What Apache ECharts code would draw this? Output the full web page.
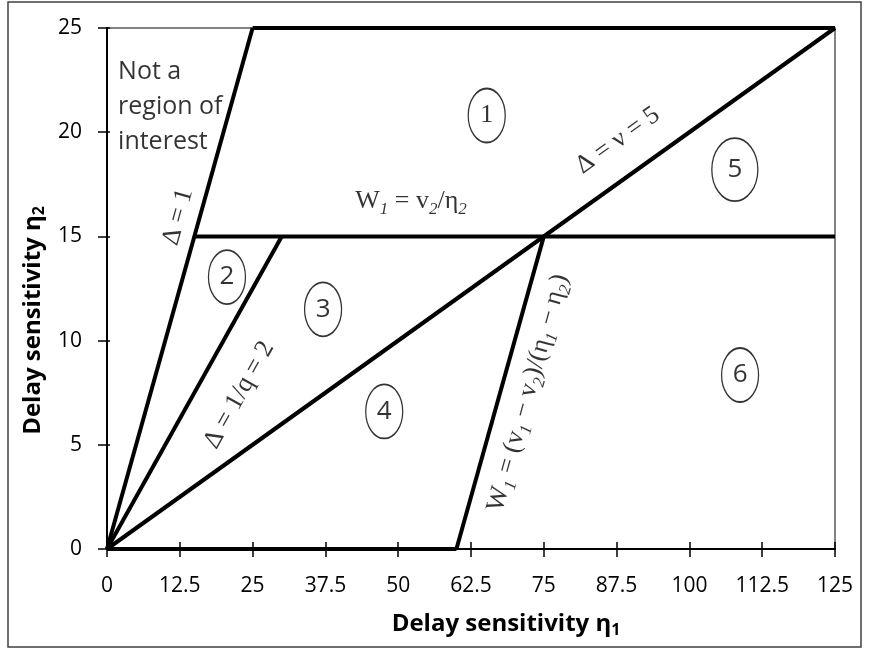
<!DOCTYPE html>
<html>
<head>
<meta charset="utf-8">
<script src="https://cdn.jsdelivr.net/npm/echarts@6/dist/echarts.min.js"></script>
<style>
  html, body { margin: 0; padding: 0; background: #fff; }
  #chart { width: 870px; height: 649px; }
</style>
</head>
<body>
<div id="chart"></div>
<script>
// axis ranges
const xMax = 125, xStep = 12.5;
const yMax = 25, yStep = 5;

// boundary lines [eta1, eta2]
const lineDeltaOne = [[0, 0], [25, 25]];
const lineTop = [[25, 25], [125, 25]];
const lineFlat15 = [[15, 15], [125, 15]];
const lineDeltaTwo = [[0, 0], [30, 15]];
const lineDeltaFive = [[0, 0], [125, 25]];
const lineBottom = [[0, 0], [60, 0]];
const lineSlant = [[60, 0], [75, 15]];

// circled region numbers
const regionNames = ['1', '2', '3', '4', '5', '6'];
const regionX = [65.2, 20.6, 37.1, 47.6, 107.8, 108.7];
const regionY = [20.8, 13.05, 11.5, 6.6, 18.2, 8.35];

// text notes
const noteTexts = [
  'Not a\nregion of\ninterest',
  'Δ = 1',
  'Δ = 1/q = 2',
  'Δ = ν = 5',
  'W{s|1} = v{s|2}/η{s|2}',
  'W{s|1} = (v{s|1} − v{s|2})/(η{s|1} − η{s|2})'
];
const noteX = [1.9, 12.2, 22.7, 87.7, 52.2, 72.3];
const noteY = [21.2, 15.93, 7.39, 19.6, 16.7, 7.49];
const noteAngle = [0, 74.4, 60.8, 35.6, 0, 74.4];

const serif = '"Liberation Serif", "DejaVu Serif", serif';
const sans = '"Open Sans", "Liberation Sans", sans-serif';

const chart = echarts.init(document.getElementById('chart'));

const boundaries = [lineDeltaOne, lineTop, lineFlat15, lineDeltaTwo, lineDeltaFive, lineBottom, lineSlant];
const lineSeries = boundaries.map(d => ({
  type: 'line',
  data: d,
  symbol: 'none',
  silent: true,
  clip: false,
  z: 5,
  lineStyle: { color: '#000', width: 4 }
}));

const regionData = regionNames.map((n, i) => ({
  value: [regionX[i], regionY[i]],
  name: n,
  symbolSize: n === '5' ? [46, 63] : [37, 54],
  label: n === '1' ? { fontFamily: serif } : {}
}));

const noteData = noteTexts.map((t, i) => ({
  value: [noteX[i], noteY[i]],
  name: t,
  label: i === 0
    ? { rotate: 0, align: 'left', fontFamily: sans, fontSize: 25, lineHeight: 35 }
    : { rotate: noteAngle[i] }
}));

const titleRich = { sub: { fontFamily: sans, fontSize: 16, fontWeight: 'bold', color: '#000', verticalAlign: 'bottom', padding: [11, 0, 0, 0] } };

const option = {
  animation: false,
  backgroundColor: '#fff',
  grid: {
    left: 107, right: 35, top: 28, bottom: 100,
    show: true, borderColor: '#595959', borderWidth: 1.5, backgroundColor: 'transparent'
  },
  xAxis: [{
    type: 'value', min: 0, max: xMax, interval: xStep, position: 'bottom',
    name: 'Delay sensitivity η{sub|1}',
    nameLocation: 'middle', nameGap: 62,
    nameTextStyle: {
      fontFamily: sans, fontSize: 24, fontWeight: 'bold', color: '#000',
      padding: [0, 0, 0, 70],
      rich: titleRich
    },
    axisLine: { lineStyle: { color: '#000', width: 2 } },
    axisTick: { length: 8, lineStyle: { color: '#000', width: 1.5 } },
    axisLabel: { margin: 27, fontFamily: sans, fontSize: 21, color: '#000' },
    splitLine: { show: false }
  }, {
    type: 'value', min: 0, max: xMax, interval: xStep, position: 'bottom',
    axisLine: { show: false },
    axisTick: { inside: true, length: 7, lineStyle: { color: '#000', width: 1.5 } },
    axisLabel: { show: false },
    splitLine: { show: false }
  }],
  yAxis: [{
    type: 'value', min: 0, max: yMax, interval: yStep, position: 'left',
    name: 'Delay sensitivity η{sub|2}',
    nameLocation: 'middle', nameGap: 54, nameRotate: 90,
    nameTextStyle: {
      fontFamily: sans, fontSize: 24, fontWeight: 'bold', color: '#000',
      padding: [0, 64, 0, 0],
      rich: titleRich
    },
    axisLine: { lineStyle: { color: '#000', width: 2 } },
    axisTick: { length: 9, lineStyle: { color: '#000', width: 1.5 } },
    axisLabel: { margin: 25, fontFamily: sans, fontSize: 21, color: '#000' },
    splitLine: { show: false }
  }, {
    type: 'value', min: 0, max: yMax, interval: yStep, position: 'left',
    axisLine: { show: false },
    axisTick: { inside: true, length: 3, lineStyle: { color: '#000', width: 1.5 } },
    axisLabel: { show: false },
    splitLine: { show: false }
  }],
  series: lineSeries.concat([{
    type: 'scatter',
    data: regionData,
    symbol: 'circle',
    silent: true,
    z: 6,
    itemStyle: { color: '#fff', borderColor: '#000', borderWidth: 1.5 },
    label: {
      show: true, position: 'inside', formatter: '{b}',
      fontFamily: sans, fontSize: 26, color: '#000'
    }
  }, {
    type: 'scatter',
    data: noteData,
    symbolSize: 1,
    silent: true,
    z: 7,
    itemStyle: { color: 'rgba(0,0,0,0)' },
    label: {
      show: true, position: 'inside', formatter: p => p.name,
      fontFamily: serif, fontSize: 26, color: '#000', lineHeight: 34,
      rich: { s: { fontFamily: serif, fontSize: 17, fontStyle: 'italic', color: '#000', verticalAlign: 'bottom', lineHeight: 20 } }
    }
  }]),
  graphic: [{
    type: 'rect',
    shape: { x: 8, y: 2, width: 853, height: 645 },
    style: { fill: 'none', stroke: '#404040', lineWidth: 1.5 },
    silent: true
  }]
};

chart.setOption(option);
</script>
</body>
</html>
